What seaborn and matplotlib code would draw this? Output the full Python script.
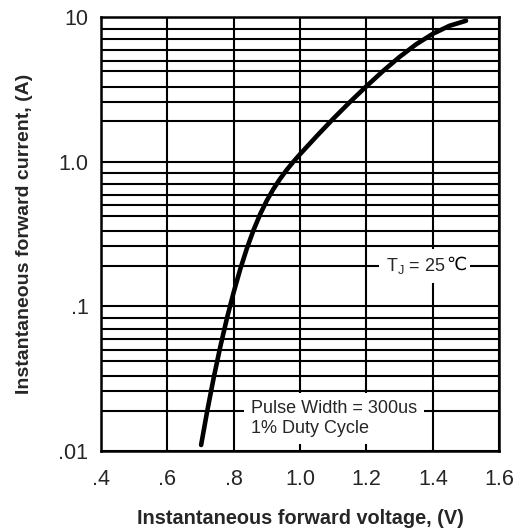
import matplotlib
matplotlib.use('Agg')
import matplotlib.pyplot as plt
import seaborn as sns
import numpy as np
import pandas as pd

# forward voltage (V) / forward current (A)
voltage = [0.702, 0.72, 0.74, 0.76, 0.78, 0.80, 0.82, 0.84, 0.86, 0.88,
           0.90, 0.92, 0.94, 0.96, 0.98, 1.00, 1.05, 1.10, 1.15, 1.20,
           1.25, 1.30, 1.35, 1.40, 1.45, 1.50]
current = [0.0110, 0.0187, 0.0322, 0.0529, 0.0831, 0.125, 0.181, 0.252, 0.337, 0.434,
           0.539, 0.648, 0.761, 0.878, 0.999, 1.126, 1.50, 1.98, 2.58, 3.32,
           4.23, 5.30, 6.48, 7.65, 8.69, 9.42]

x_ticks = [0.4, 0.6, 0.8, 1.0, 1.2, 1.4, 1.6]
x_labels = ['.4', '.6', '.8', '1.0', '1.2', '1.4', '1.6']
y_ticks = [0.01, 0.1, 1.0, 10]
y_labels = ['.01', '.1', '1.0', '10']
# the chart's horizontal grid steps inside each decade
grid_steps = [1.9, 2.6, 3.3, 4.2, 5.0, 5.9, 7.0, 8.3]

df = pd.DataFrame({'V': voltage, 'I': current})

sns.set_style('white')
plt.rcParams['font.family'] = ['Liberation Sans', 'DejaVu Sans']
plt.rcParams['mathtext.fontset'] = 'custom'
plt.rcParams['mathtext.rm'] = 'Liberation Sans'
plt.rcParams['mathtext.default'] = 'regular'

fig = plt.figure(figsize=(5.2, 5.31), dpi=100)
ax = fig.add_axes([0.194, 0.1507, 0.766, 0.8173])

sns.lineplot(data=df, x='V', y='I', ax=ax, color='black', linewidth=3.3,
             zorder=5, sort=False)

ax.set_yscale('log')
ax.set_xlim(0.4, 1.6)
ax.set_ylim(0.01, 10)

ax.set_xticks(x_ticks)
ax.set_xticklabels(x_labels)
ax.set_yticks(y_ticks)
ax.set_yticklabels(y_labels)
minor = [d * s for d in [0.01, 0.1, 1.0] for s in grid_steps]
ax.set_yticks(minor, minor=True)
ax.yaxis.set_minor_formatter(matplotlib.ticker.NullFormatter())
ax.tick_params(axis='both', which='both', length=0, labelsize=15.5)
ax.tick_params(axis='x', pad=13)
ax.tick_params(axis='y', pad=9)

ax.grid(True, which='both', axis='y', color='black', linewidth=1.5)
ax.grid(True, which='major', axis='x', color='black', linewidth=1.5)
ax.set_axisbelow(True)
for sp in ax.spines.values():
    sp.set_color('black')
    sp.set_linewidth(1.8)

ax.set_xlabel('Instantaneous forward voltage, (V)', fontsize=14.3,
              fontweight='bold', labelpad=14)
ax.set_ylabel('Instantaneous forward current, (A)', fontsize=14,
              fontweight='bold', labelpad=18)

# T_J label: mathtext part + the degree-Celsius sign from DejaVu Sans
tj = ax.text(1.259, 0.19, 'T$_J$ = 25', fontsize=13, ha='left', va='center',
             zorder=7, bbox=dict(facecolor='white', edgecolor='none', pad=5))
# white backing for the sign (under the first box), then the sign itself
ax.annotate('\u2103', xy=(1, 0.56), xycoords=tj, ha='left', va='center',
            fontsize=13, family=['DejaVu Sans'], color='white', zorder=6,
            bbox=dict(facecolor='white', edgecolor='none', pad=3))
ax.annotate('\u2103', xy=(1, 0.56), xycoords=tj, ha='left', va='center',
            fontsize=13, family=['DejaVu Sans'], color='black', zorder=8)

ax.text(0.852, 0.0168, 'Pulse Width = 300us\n1% Duty Cycle', fontsize=13,
        ha='left', va='center', linespacing=1.22, zorder=6,
        bbox=dict(facecolor='white', edgecolor='none', pad=5))

fig.savefig('out.png', dpi=100)
